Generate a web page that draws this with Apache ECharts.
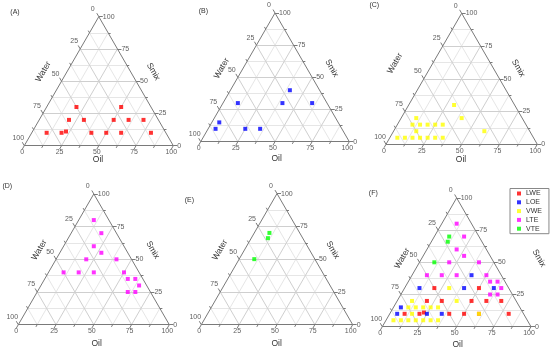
<!DOCTYPE html>
<html><head><meta charset="utf-8">
<script src="https://cdn.jsdelivr.net/npm/echarts@6/dist/echarts.min.js"></script>
<style>html,body{margin:0;padding:0;background:#fff}#c{width:550px;height:351px}</style>
</head><body><div id="c"></div>
<script>
// Ternary compositions, each point = [Oil, Smix, Water] in %
const LWE = [[20,30,50],[50,30,20],[20,20,60],[30,20,50],[50,20,30],[60,20,20],[70,20,10],
  [10,10,80],[20,10,70],[22.5,11,66.5],[40,10,50],[50,10,40],[60,10,30],[80,10,10]];
const LOE = [[40,40,20],[10,30,60],[40,30,30],[60,30,10],[5,15,80],[5,10,85],[25,10,65],[35,10,55]];
const VWE = [[30,30,40],[40,20,40],[10,20,70],[60,10,30],[15,10,75],
  [10,15,75],[15,15,70],[20,15,65],[25,15,60],[30,15,55],
  [5,5,90],[10,5,85],[15,5,80],[20,5,75],[25,5,70],[30,5,65],[35,5,60]];
const LTE = [[10,80,10],[20,70,10],[20,60,20],[27.5,55,17.5],[20,50,30],[40,50,10],
  [10,40,50],[20,40,40],[30,40,30],[50,40,10],[55,35,10],[60,35,5],[65,30,5],[60,25,15],[65,25,10]];
const VTE = [[10,70,20],[11,66,23],[10,50,40]];

const seriesNames = ['LWE','LOE','VWE','LTE','VTE'];
const seriesData = [LWE, LOE, VWE, LTE, VTE];
const seriesColors = ['#ff0000','#0000ff','#ffff00','#ff00ff','#00ff00'];
const tickValues = [0, 25, 50, 75, 100];
const minorValues = [12.5, 37.5, 62.5, 87.5];
const panelLabels = ['(A)','(B)','(C)','(D)','(E)','(F)'];
const panelSeries = [[0],[1],[2],[3],[4],[0,1,2,3,4]];
const axisNames = {bottom:'Oil', left:'Water', right:'Smix'};

// layout: bottom-left corner and triangle width (px), and text positions
const panels = [
  {x:24.3, y:145.7, w:149,   lab:[15,11.7],   water:[43.3,71.7],  smix:[153.3,71.7], oil:[98,159.5]},
  {x:200.7,y:141.7, w:148.6, lab:[203.3,10.7],water:[221.7,68.3], smix:[331.7,68.3], oil:[276.7,159]},
  {x:386,  y:144.3, w:151.3, lab:[374.3,5.5], water:[395,63.3],   smix:[518.3,68.3], oil:[461,160]},
  {x:18.3, y:324.7, w:151,   lab:[7.3,185.7], water:[39.3,250],   smix:[152.7,250],  oil:[96.7,343.3]},
  {x:201.3,y:324.7, w:151.4, lab:[189.3,200], water:[220,250],    smix:[332.7,250],  oil:[276.7,343.3]},
  {x:382.3,y:326.7, w:148.7, lab:[373.3,192.7],water:[402.3,258.3],smix:[539,258.3], oil:[457.7,345]}
];

const TH = Math.sqrt(3)/2;
const FONT = "'Liberation Sans', Arial, sans-serif";
function cart(oil, smix){ return [oil + smix/2, smix*TH]; }
function seg(a,b){ return {coords:[cart(a[0],a[1]), cart(b[0],b[1])]}; }

const grid=[], xAxis=[], yAxis=[], series=[], graphic=[];
panels.forEach((p,i)=>{
  const h = p.w*TH;
  grid.push({left:p.x, top:p.y-h, width:p.w, height:h});
  xAxis.push({gridIndex:i, type:'value', min:0, max:100, show:false});
  yAxis.push({gridIndex:i, type:'value', min:0, max:100*TH, show:false});
  const common = {xAxisIndex:i, yAxisIndex:i, coordinateSystem:'cartesian2d', silent:true, clip:false};
  const minor=[], major=[];
  minorValues.forEach(k=>{ minor.push(seg([0,k],[100-k,k]), seg([k,0],[k,100-k]), seg([100-k,0],[0,100-k])); });
  [25,50,75].forEach(k=>{ major.push(seg([0,k],[100-k,k]), seg([k,0],[k,100-k]), seg([100-k,0],[0,100-k])); });
  series.push(Object.assign({type:'lines', data:minor, lineStyle:{color:'#e6e6e6', width:1, opacity:1}, z:1}, common));
  series.push(Object.assign({type:'lines', data:major, lineStyle:{color:'#cfcfcf', width:1, opacity:1}, z:2}, common));
  // ticks
  const ticks=[];
  const unit = 100/p.w;
  function addTick(v, len){
    const L = len*unit;
    let s = cart(v,0); ticks.push({coords:[s,[s[0]-0.5*L, s[1]-TH*L]]});
    s = cart(0,100-v); ticks.push({coords:[s,[s[0]-0.5*L, s[1]+TH*L]]});
    s = cart(100-v,v); ticks.push({coords:[s,[s[0]+L, s[1]]]});
  }
  tickValues.forEach(v=>addTick(v,4));
  minorValues.forEach(v=>addTick(v,2.5));
  const border=[seg([0,0],[100,0]), seg([100,0],[0,100]), seg([0,100],[0,0])];
  series.push(Object.assign({type:'lines', data:ticks.concat(border), lineStyle:{color:'#7a7a7a', width:1, opacity:1}, z:3}, common));
  // tick labels
  const lblStyle = {show:true, color:'#333', fontSize:7, fontFamily:FONT, formatter:(d)=>d.data.t};
  series.push(Object.assign({type:'scatter', symbolSize:0.1, itemStyle:{color:'transparent'}, z:4,
    data: tickValues.map(v=>({value:cart(v,0), t:String(v)})),
    label:Object.assign({position:'bottom', distance:3, offset:[-2,0]}, lblStyle)}, common));
  series.push(Object.assign({type:'scatter', symbolSize:0.1, itemStyle:{color:'transparent'}, z:4,
    data: tickValues.map(v=>({value:cart(0,100-v), t:String(v)})),
    label:Object.assign({position:'inside', offset:[-6,-7.5]}, lblStyle)}, common));
  series.push(Object.assign({type:'scatter', symbolSize:0.1, itemStyle:{color:'transparent'}, z:4,
    data: tickValues.map(v=>({value:cart(100-v,v), t:String(v)})),
    label:Object.assign({position:'right', distance:4}, lblStyle)}, common));
  // data points
  panelSeries[i].forEach(si=>{
    series.push(Object.assign({}, common, {type:'scatter', name:seriesNames[si], silent:false,
      symbol:'rect', symbolSize:4, itemStyle:{color:seriesColors[si]}, z:10,
      data: seriesData[si].map(d=>cart(d[0], d[1]))}));
  });
  // texts
  const t = (txt,pos,rot,size)=>({type:'text', x:pos[0], y:pos[1], rotation:rot, silent:true,
    style:{text:txt, fontSize:size, fontFamily:FONT, fill:'#333', align:'center', verticalAlign:'middle'}});
  graphic.push(t(panelLabels[i], p.lab, 0, 7));
  graphic.push(t(axisNames.left, p.water, Math.PI/3, 8.5));
  graphic.push(t(axisNames.right, p.smix, -Math.PI/3, 8.5));
  graphic.push(t(axisNames.bottom, p.oil, 0, 8.5));
});

const chart = echarts.init(document.getElementById('c'), null, {renderer:'canvas'});
chart.setOption({
  animation:false,
  backgroundColor:'#fff',
  grid, xAxis, yAxis, series, graphic,
  legend:{data:seriesNames, orient:'vertical', left:510, top:188.5, itemWidth:4, itemHeight:4, itemGap:0.8,
    padding:[1,7,1,7], borderColor:'#888', borderWidth:1,
    textStyle:{fontSize:7, fontFamily:FONT, color:'#333', lineHeight:8}, selectedMode:false}
});
</script></body></html>
